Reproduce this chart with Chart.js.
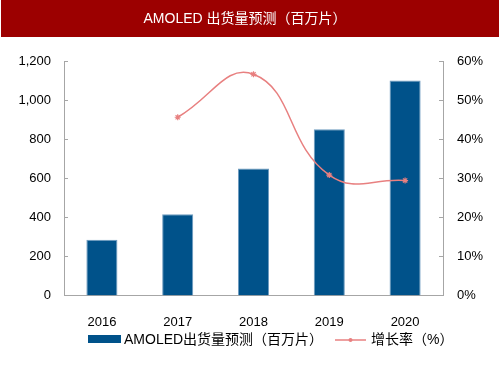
<!DOCTYPE html>
<html>
<head>
<meta charset="utf-8">
<script src="https://cdn.jsdelivr.net/npm/chart.js@4.4.1/dist/chart.umd.min.js"></script>
<style>
  html, body { margin: 0; padding: 0; background: #fff; }
  #wrap { width: 500px; height: 375px; position: relative; }
</style>
</head>
<body>
<div id="wrap"><canvas id="c" width="500" height="375"></canvas></div>
<script>
const chartTitle = 'AMOLED 出货量预测（百万片）';
const categories = ['2016', '2017', '2018', '2019', '2020'];
const shipments = [285, 415, 650, 850, 1100];
const growthRate = [null, 45.6, 56.6, 30.8, 29.4];
const barLabel = 'AMOLED出货量预测（百万片）';
const lineLabel = '增长率（%）';

const FONT = '"Liberation Sans", Arial, "Noto Sans CJK SC", sans-serif';
const BAR_COLOR = '#00528a';
const LINE_COLOR = '#e88080';
const AXIS_COLOR = '#a6a6a6';

const decorPlugin = {
  id: 'decor',
  beforeDraw(chart) {
    const ctx = chart.ctx;
    ctx.save();
    ctx.fillStyle = '#ffffff';
    ctx.fillRect(0, 0, chart.width, chart.height);
    ctx.fillStyle = '#9c0000';
    ctx.fillRect(1, 0, chart.width - 2, 37);
    ctx.fillStyle = '#ffffff';
    ctx.font = '14px ' + FONT;
    ctx.textAlign = 'center';
    ctx.textBaseline = 'middle';
    ctx.fillText(chartTitle, 245, 19);
    ctx.restore();
  },
  afterDraw(chart) {
    const ctx = chart.ctx;
    const area = chart.chartArea;
    const yL = chart.scales.y, yR = chart.scales.y1;
    ctx.save();
    // inward tick marks
    ctx.strokeStyle = AXIS_COLOR;
    ctx.lineWidth = 1;
    ctx.beginPath();
    yL.ticks.forEach(t => {
      const p = Math.round(yL.getPixelForValue(t.value)) + 0.5;
      ctx.moveTo(area.left, p); ctx.lineTo(area.left + 4, p);
    });
    yR.ticks.forEach(t => {
      const p = Math.round(yR.getPixelForValue(t.value)) + 0.5;
      ctx.moveTo(area.right, p); ctx.lineTo(area.right - 4, p);
    });
    ctx.stroke();
    // legend
    const ly = 339;
    ctx.fillStyle = BAR_COLOR;
    ctx.fillRect(88, ly - 4, 33, 8);
    ctx.fillStyle = '#000';
    ctx.font = '14px ' + FONT;
    ctx.textBaseline = 'middle';
    ctx.textAlign = 'left';
    ctx.fillText(barLabel, 124, ly + 1);
    ctx.strokeStyle = LINE_COLOR;
    ctx.lineWidth = 1.5;
    ctx.beginPath();
    ctx.moveTo(335, ly + 1); ctx.lineTo(366, ly + 1);
    ctx.stroke();
    ctx.fillStyle = LINE_COLOR;
    ctx.beginPath();
    ctx.arc(350.5, ly + 1, 2, 0, Math.PI * 2);
    ctx.fill();
    ctx.fillStyle = '#000';
    ctx.fillText(lineLabel, 371, ly + 1);
    ctx.restore();
  }
};

new Chart(document.getElementById('c'), {
  data: {
    labels: categories,
    datasets: [
      {
        type: 'line',
        label: lineLabel,
        data: growthRate,
        yAxisID: 'y1',
        borderColor: LINE_COLOR,
        backgroundColor: LINE_COLOR,
        borderWidth: 1.5,
        tension: 0.45,
        pointStyle: 'star',
        pointRadius: 3,
        pointBorderWidth: 1.2,
        order: 0
      },
      {
        type: 'bar',
        label: barLabel,
        data: shipments,
        yAxisID: 'y',
        backgroundColor: BAR_COLOR,
        borderColor: '#6f9cc0',
        borderWidth: 1,
        barPercentage: 0.41,
        categoryPercentage: 1.0,
        order: 1
      }
    ]
  },
  options: {
    responsive: false,
    animation: false,
    layout: { padding: { top: 61, left: 0, right: 0, bottom: 26 } },
    plugins: {
      legend: { display: false },
      tooltip: { enabled: false },
      title: { display: false }
    },
    scales: {
      x: {
        grid: { display: false, drawTicks: false },
        border: { color: AXIS_COLOR, width: 1 },
        ticks: { color: '#000', font: { family: FONT, size: 13 }, padding: 19, maxRotation: 0 }
      },
      y: {
        position: 'left',
        min: 0, max: 1200,
        afterFit(s) { s.width = 64; },
        grid: { display: false, drawTicks: false },
        border: { color: AXIS_COLOR, width: 1 },
        ticks: {
          stepSize: 200, color: '#000', padding: 13,
          font: { family: FONT, size: 13 },
          callback: v => v.toLocaleString('en-US')
        }
      },
      y1: {
        position: 'right',
        min: 0, max: 60,
        afterFit(s) { s.width = 57; },
        grid: { display: false, drawTicks: false },
        border: { color: AXIS_COLOR, width: 1 },
        ticks: {
          stepSize: 10, color: '#000', padding: 14,
          font: { family: FONT, size: 13 },
          callback: v => v + '%'
        }
      }
    }
  },
  plugins: [decorPlugin]
});
</script>
</body>
</html>
